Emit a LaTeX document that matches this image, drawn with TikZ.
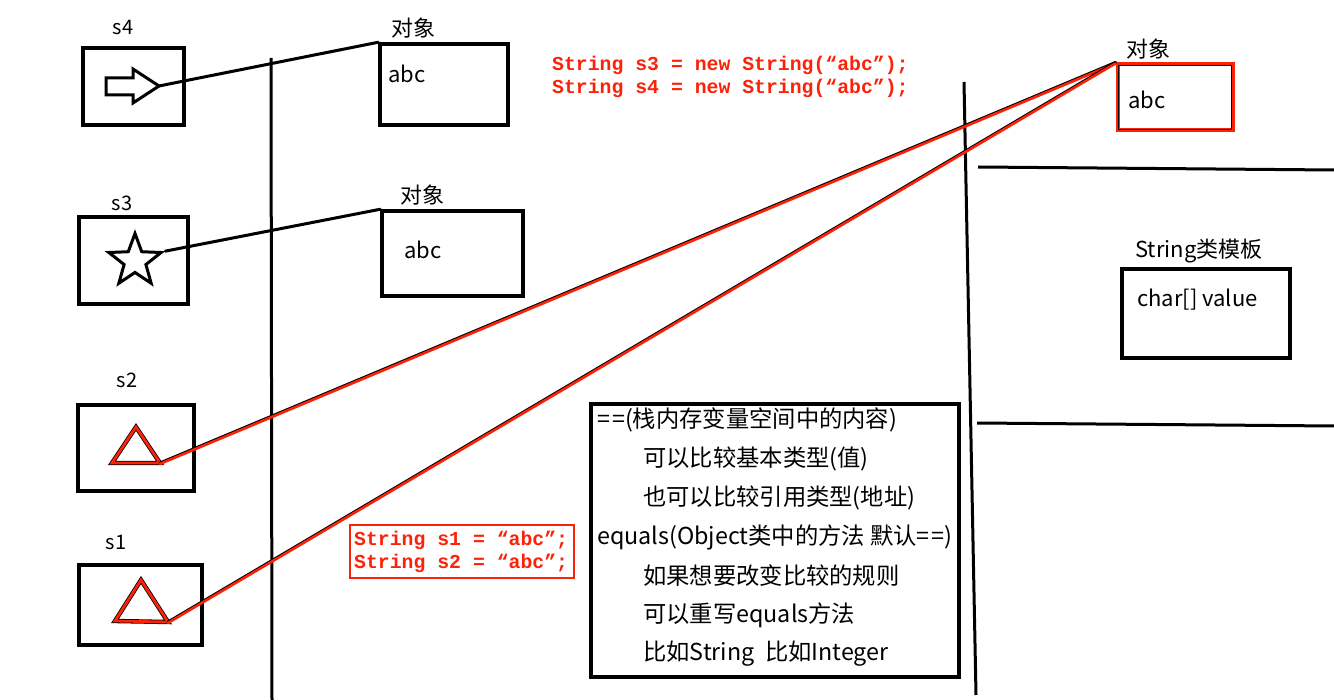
\documentclass[tikz,border=0pt]{standalone}
\usepackage{fontspec}
\setmainfont{Noto Sans CJK SC}
\newfontfamily\codefont{Liberation Mono}
\usetikzlibrary{shapes.geometric}
\definecolor{mred}{RGB}{250,35,10}
\begin{document}
\begin{tikzpicture}[x=1pt,y=-1pt,
  box/.style={draw, line width=3.5pt, rectangle, inner sep=0pt},
  redbox/.style={draw=mred, line width=4pt, rectangle, inner sep=0pt},
  txt/.style={inner sep=0pt, font=\fontsize{22}{22}\selectfont},
  vlbl/.style={inner sep=0pt, font=\fontsize{20}{20}\selectfont},
  info/.style={inner sep=0pt, anchor=west, font=\fontsize{23.3}{23.3}\selectfont},
  code/.style={inner sep=0pt, anchor=west, text=mred, font=\codefont\bfseries\fontsize{19.8}{19.8}\selectfont},
  conn/.style={line width=3pt, line cap=round},
  redconn/.style={draw=mred, line width=2.6pt, line cap=round},
  wall/.style={line width=3pt},
  tri/.style={line width=2.8pt, draw=mred, line join=miter}
]
\useasboundingbox (0,0) rectangle (1334,700);

% walls
\draw[wall] (271,58) -- (272,700);
\draw[wall] (964,82) -- (976,695);
\draw[wall] (978,167) -- (1334,170);
\draw[wall] (977,423) -- (1334,426);

% stack variables
\node[box, minimum width=101pt, minimum height=77pt] (s4) at (133.5,86.5) {};
\node[vlbl] (s4l) at (123,28) {s4};
\node[box, minimum width=109pt, minimum height=87pt] (s3) at (133.5,260.5) {};
\node[vlbl] (s3l) at (122,203) {s3};
\node[box, minimum width=116pt, minimum height=86pt] (s2) at (136,448) {};
\node[vlbl] (s2l) at (127,380) {s2};
\node[box, minimum width=123pt, minimum height=80pt] (s1) at (140.5,605) {};
\node[vlbl] (s1l) at (116,542) {s1};

% arrow glyph in s4
\coordinate (a4) at (159,86);
\draw[line width=3pt, line join=miter] (106,78) -- (133,78) -- (133,69) -- (a4) -- (133,103) -- (133,95) -- (106,95) -- cycle;

% star in s3
\node[star, star points=5, star point ratio=2.4, minimum size=55pt, draw, line width=3pt, inner sep=0pt] (st) at (135,261) {};

% triangles
\coordinate (t2a) at (112,463); \coordinate (t2b) at (136,427); \coordinate (t2) at (160,463);
\draw[line width=4.4pt, line join=miter] (t2a) -- (t2b) -- (t2) -- cycle;
\draw[tri] (t2a) -- (t2b) -- (t2) -- cycle;
\coordinate (t1a) at (115,621); \coordinate (t1b) at (141,580); \coordinate (t1) at (168,622);
\draw[line width=4.4pt, line join=miter] (t1a) -- (t1b) -- (t1) -- cycle;
\draw[tri] (t1a) -- (t1b) -- (t1) -- cycle;

% heap objects
\node[box, minimum width=128pt, minimum height=81pt] (o1) at (444,84.5) {};
\node[txt] (o1l) at (413,28) {对象};
\node[txt, anchor=west] (o1t) at (388,74) {abc};
\node[box, minimum width=141pt, minimum height=85pt] (o2) at (452.5,253.5) {};
\node[txt] (o2l) at (422,195) {对象};
\node[txt, anchor=west] (o2t) at (404,250) {abc};

\node[redbox, minimum width=115pt, minimum height=66pt] (oR) at (1175,97.5) {};
\draw[line width=1pt] ([shift={(3pt,-3pt)}]oR.north west) rectangle ([shift={(-3pt,3pt)}]oR.south east);
\node[txt] (oRl) at (1148,49) {对象};
\node[txt, anchor=west] (oRt) at (1128,100) {abc};

% String template
\node[box, minimum width=168pt, minimum height=89pt] (tp) at (1206,313.5) {};
\node[txt, anchor=west] (tpl) at (1135,251) {String类模板};
\node[txt, anchor=west] (tpt) at (1137,300) {char[] value};

% code
\node[code] (c3) at (552,65) {String s3 = new String(“abc”);};
\node[code] (c4) at (552,88) {String s4 = new String(“abc”);};
\node[redbox, line width=2.5pt, minimum width=224pt, minimum height=53pt] (cb) at (462,551.5) {};
\node[code] (c1) at (354,540) {String s1 = “abc”;};
\node[code] (c2) at (354,563) {String s2 = “abc”;};

% info box
\node[box, minimum width=368pt, minimum height=273pt] (ib) at (775,540.5) {};
\node[info] (i1) at (597,420) {=\kern2pt=(栈内存变量空间中的内容)};
\node[info] (i2) at (643,459) {可以比较基本类型(值)};
\node[info] (i3) at (643,498) {也可以比较引用类型(地址)};
\node[info] (i4) at (597,537) {equals(Object类中的方法 默认=\kern2pt=)};
\node[info] (i5) at (643,576) {如果想要改变比较的规则};
\node[info] (i6) at (643,615) {可以重写equals方法};
\node[info] (i7) at (643,654) {比如String\ \ 比如Integer};

% connectors
\draw[conn] (a4) -- (o1.north west);
\draw[conn] (st.outer point 5) -- (o2.north west);
\draw[conn] (t2) -- (oR.north west);
\draw[redconn, transform canvas={yshift=-0.9pt}] (t2) -- (oR.north west);
\draw[conn] (t1) -- (oR.north west);
\draw[redconn, transform canvas={yshift=-0.9pt}] (t1) -- (oR.north west);
\end{tikzpicture}
\end{document}
